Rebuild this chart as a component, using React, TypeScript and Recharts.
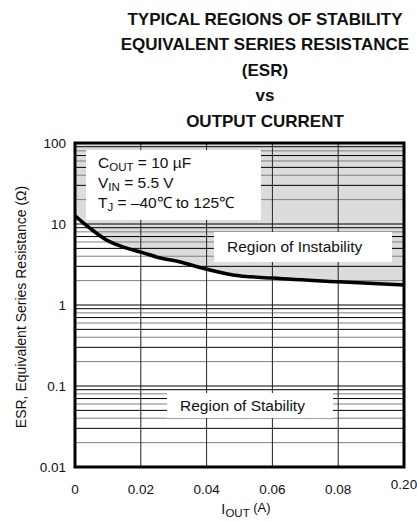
import React from 'react';
import { ComposedChart, Area, Line, XAxis, YAxis, ReferenceLine } from 'recharts';

// curve
const iout = [0, 0.0045, 0.0097, 0.0152, 0.02, 0.026, 0.032, 0.038, 0.048, 0.06, 0.08, 0.1];
const esr = [12.6, 8.9, 6.3, 5.1, 4.5, 3.8, 3.4, 2.9, 2.35, 2.15, 1.93, 1.76];

const xTicks = [0, 0.02, 0.04, 0.06, 0.08, 0.1];
const xTickLabels = ['0', '0.02', '0.04', '0.06', '0.08', '0.20'];
const yTicks = [0.01, 0.1, 1, 10, 100];
const yTickLabels = ['0.01', '0.1', '1', '10', '100'];
const decades = [0.01, 0.1, 1, 10];
const minorSteps = [2, 3, 4, 5, 6, 7, 8, 9];
const esrTop = 100;

const data = iout.map((x, i) => ({ iout: x, esr: esr[i], band: [esr[i], esrTop] }));

const FONT = '"Liberation Sans", Arial, Helvetica, sans-serif';

const XTick = (props: any) => {
  const { x, y, payload } = props;
  const i = xTicks.indexOf(payload.value);
  const last = i === xTicks.length - 1;
  return (
    <text x={x} y={y + (last ? 14 : 19)} textAnchor="middle" fontSize={13.5} fontFamily={FONT} fill="#111">
      {xTickLabels[i]}
    </text>
  );
};

const YTick = (props: any) => {
  const { x, y, payload } = props;
  const i = yTicks.indexOf(payload.value);
  return (
    <text x={x - 1} y={y + 5} textAnchor="end" fontSize={13.5} fontFamily={FONT} fill="#111">
      {yTickLabels[i]}
    </text>
  );
};

const minorLines: { v: number; dark: boolean }[] = [];
decades.forEach((d) => minorSteps.forEach((m) => minorLines.push({ v: d * m, dark: m % 2 === 1 })));

const App: React.FC = () => {
  return (
    <div style={{ position: 'absolute', left: 0, top: 0, width: 417, height: 522, background: '#fff' }}>
      <ComposedChart width={417} height={522} data={data} margin={{ top: 143, right: 13, bottom: 0, left: 0 }}>
        <XAxis
          dataKey="iout"
          type="number"
          domain={[0, 0.1]}
          ticks={xTicks}
          interval={0}
          height={55}
          axisLine={false}
          tickLine={false}
          tick={<XTick />}
        />
        <YAxis
          type="number"
          scale="log"
          domain={[0.01, 100]}
          ticks={yTicks}
          interval={0}
          width={75}
          allowDataOverflow
          axisLine={false}
          tickLine={false}
          tick={<YTick />}
        />
        <Area
          dataKey="band"
          type="monotone"
          fill="#dcdcdc"
          fillOpacity={1}
          stroke="none"
          isAnimationActive={false}
        />
        {minorLines.map((l) => (
          <ReferenceLine key={'m' + l.v} y={l.v} stroke={l.dark ? '#000' : '#808080'} strokeWidth={1} />
        ))}
        {[0.1, 1, 10].map((v) => (
          <ReferenceLine key={'M' + v} y={v} stroke="#000" strokeWidth={1.2} />
        ))}
        {xTicks.slice(1, -1).map((v) => (
          <ReferenceLine key={'x' + v} x={v} stroke="#222" strokeWidth={1} />
        ))}
        <Line
          dataKey="esr"
          type="monotone"
          stroke="#000"
          strokeWidth={3.5}
          dot={false}
          isAnimationActive={false}
        />
      </ComposedChart>
      <svg
        width={417}
        height={522}
        style={{ position: 'absolute', left: 0, top: 0, pointerEvents: 'none' }}
        fontFamily={FONT}
      >
        {/* annotation boxes */}
        <rect x={86} y={150} width={175} height={70} fill="#fff" />
        <rect x={214} y={232} width={178} height={30} fill="#fff" />
        <rect x={167} y={393} width={166} height={25} fill="#fff" />

        <g fontSize={15.5} fill="#111">
          <text x={98} y={168}>
            C<tspan fontSize={11.5} dy={3}>OUT</tspan>
            <tspan dy={-3}> = 10 µF</tspan>
          </text>
          <text x={98} y={188}>
            V<tspan fontSize={11.5} dy={3}>IN</tspan>
            <tspan dy={-3}> = 5.5 V</tspan>
          </text>
          <text x={98} y={208}>
            T<tspan fontSize={11.5} dy={3}>J</tspan>
            <tspan dy={-3}> = –40℃ to 125℃</tspan>
          </text>
          <text x={227} y={252}>Region of Instability</text>
          <text x={180} y={411}>Region of Stability</text>
        </g>

        {/* plot frame */}
        <rect x={75} y={143} width={329} height={324} fill="none" stroke="#000" strokeWidth={3} />

        {/* title */}
        <g fontSize={17} fontWeight="bold" textAnchor="middle" fill="#111">
          <text x={265} y={25}>TYPICAL REGIONS OF STABILITY</text>
          <text x={265} y={50}>EQUIVALENT SERIES RESISTANCE</text>
          <text x={265} y={76}>(ESR)</text>
          <text x={265} y={101}>vs</text>
          <text x={265} y={127}>OUTPUT CURRENT</text>
        </g>

        {/* axis titles */}
        <text
          x={0}
          y={0}
          fontSize={14}
          fill="#111"
          textAnchor="middle"
          transform="translate(26 307) rotate(-90)"
        >
          ESR, Equivalent Series Resistance (Ω)
        </text>
        <text x={246} y={514} fontSize={14.5} fill="#111" textAnchor="middle">
          I<tspan fontSize={11.5} dy={3}>OUT</tspan>
          <tspan dy={-5} fontSize={13}> (A)</tspan>
        </text>
      </svg>
    </div>
  );
};

export default App;
